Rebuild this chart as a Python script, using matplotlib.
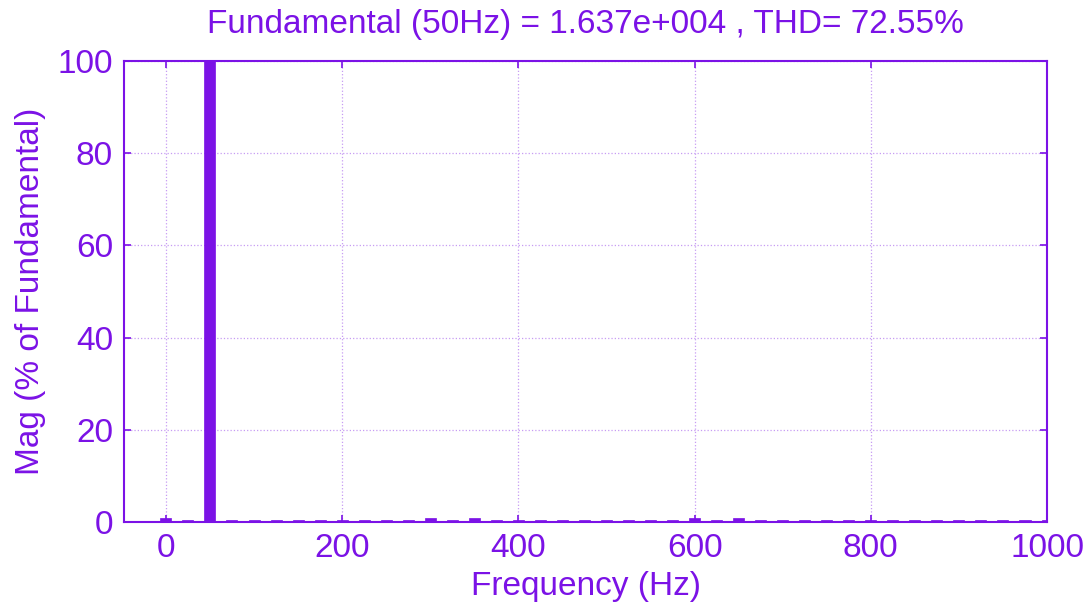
import numpy as np
import matplotlib.pyplot as plt

plt.rcParams['font.family'] = ['Liberation Sans', 'DejaVu Sans']

# harmonic spectrum, every 25 Hz from 0 to 1000 Hz
freqs = np.arange(0, 1001, 25)
mags = np.full(len(freqs), 0.45)
mags[freqs == 0] = 0.9
mags[freqs == 50] = 100.0
mags[freqs == 300] = 0.85
mags[freqs == 350] = 0.85
mags[freqs == 600] = 0.85
mags[freqs == 650] = 0.85

purple = '#7B12E6'
gridc = '#C79CF3'

fig = plt.figure(figsize=(10.91, 6.10), dpi=100)
ax = fig.add_axes([0.1137, 0.1443, 0.846, 0.7557])

ax.bar(freqs, mags, width=12.5, color=purple, edgecolor=purple, linewidth=0.5, zorder=3)
ax.axhline(0, color='#222222', linewidth=1.0, zorder=2)

ax.set_xlim(-47.5, 1000)
ax.set_ylim(0, 100)
ax.set_xticks(np.arange(0, 1001, 200))
ax.set_yticks(np.arange(0, 101, 20))

ax.grid(True, linestyle=':', color=gridc, linewidth=0.9, zorder=0)
ax.tick_params(direction='in', length=5, width=1.2, colors=purple,
               labelsize=24, top=True, right=True, pad=8)
for s in ax.spines.values():
    s.set_color(purple)
    s.set_linewidth(1.5)

ax.set_xlabel('Frequency (Hz)', fontsize=24, color=purple, labelpad=5)
ax.set_ylabel('Mag (% of Fundamental)', fontsize=24, color=purple, labelpad=8)
ax.set_title('Fundamental (50Hz) = 1.637e+004 , THD= 72.55%', fontsize=24,
             color=purple, pad=20)

fig.savefig('out.png', dpi=100)
